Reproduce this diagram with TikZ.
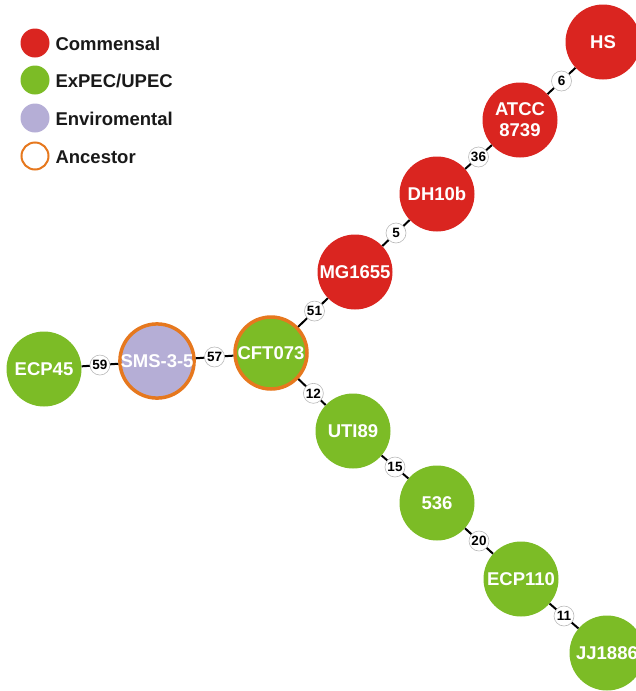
\documentclass[tikz,border=0pt]{standalone}
\usepackage{fontspec}
\setmainfont{Liberation Sans}
\definecolor{cred}{RGB}{218,37,32}
\definecolor{cgreen}{RGB}{124,188,38}
\definecolor{clav}{RGB}{181,174,214}
\definecolor{corange}{RGB}{230,120,30}
\definecolor{cgray}{RGB}{185,185,185}
\tikzset{
  strain/.style={circle, minimum size=75pt, inner sep=0pt, text=white,
     font=\fontsize{18.5}{18}\selectfont\bfseries, align=center},
  comm/.style={strain, fill=cred},
  expec/.style={strain, fill=cgreen},
  envir/.style={strain, fill=clav},
  anc/.style={draw=corange, line width=3.5pt, minimum size=72pt},
  dist/.style={circle, fill=white, draw=cgray, line width=0.6pt, minimum size=20pt,
     inner sep=0pt, font=\fontsize{13.5}{13}\selectfont\bfseries, text=black},
  edge/.style={draw=black, line width=2pt},
  legdot/.style={circle, minimum size=29pt, inner sep=0pt},
  legtext/.style={anchor=west, font=\fontsize{18.5}{18}\selectfont\bfseries, text=black!90}
}
\begin{document}
\begin{tikzpicture}[x=1pt,y=-1pt]
\useasboundingbox (0,0) rectangle (636,691);
% legend
\node[legdot, fill=cred] (l1) at (35,43) {};
\node[legtext] (t1) at (52,44) {Commensal};
\node[legdot, fill=cgreen] (l2) at (35,80) {};
\node[legtext] (t2) at (52,81) {ExPEC/UPEC};
\node[legdot, fill=clav] (l3) at (35,118) {};
\node[legtext] (t3) at (52,119) {Enviromental};
\node[legdot, draw=corange, line width=2pt, minimum size=27pt] (l4) at (35,156) {};
\node[legtext] (t4) at (52,157) {Ancestor};
% strains
\node[comm] (hs) at (603,42) {HS};
\node[comm] (atcc) at (520,120) {ATCC\\[3pt]8739};
\node[comm] (dh) at (437,194) {DH10b};
\node[comm] (mg) at (355,272) {MG1655};
\node[expec, anc] (cft) at (271,353) {CFT073};
\node[envir, anc] (sms) at (157,361) {SMS-3-5};
\node[expec] (ecp45) at (44,369) {ECP45};
\node[expec] (uti) at (353,431) {UTI89};
\node[expec] (s536) at (437,503) {536};
\node[expec] (ecp110) at (521,579) {ECP110};
\node[expec] (jj) at (607,653) {JJ1886};
% edges
\path[edge] (hs) -- node[dist] {6} (atcc);
\path[edge] (atcc) -- node[dist] {36} (dh);
\path[edge] (dh) -- node[dist] {5} (mg);
\path[edge] (mg) -- node[dist, pos=0.45] {51} (cft);
\path[edge] (cft) -- node[dist] {57} (sms);
\path[edge] (sms) -- node[dist] {59} (ecp45);
\path[edge] (cft) -- node[dist, pos=0.55] {12} (uti);
\path[edge] (uti) -- node[dist] {15} (s536);
\path[edge] (s536) -- node[dist] {20} (ecp110);
\path[edge] (ecp110) -- node[dist] {11} (jj);
\end{tikzpicture}
\end{document}
